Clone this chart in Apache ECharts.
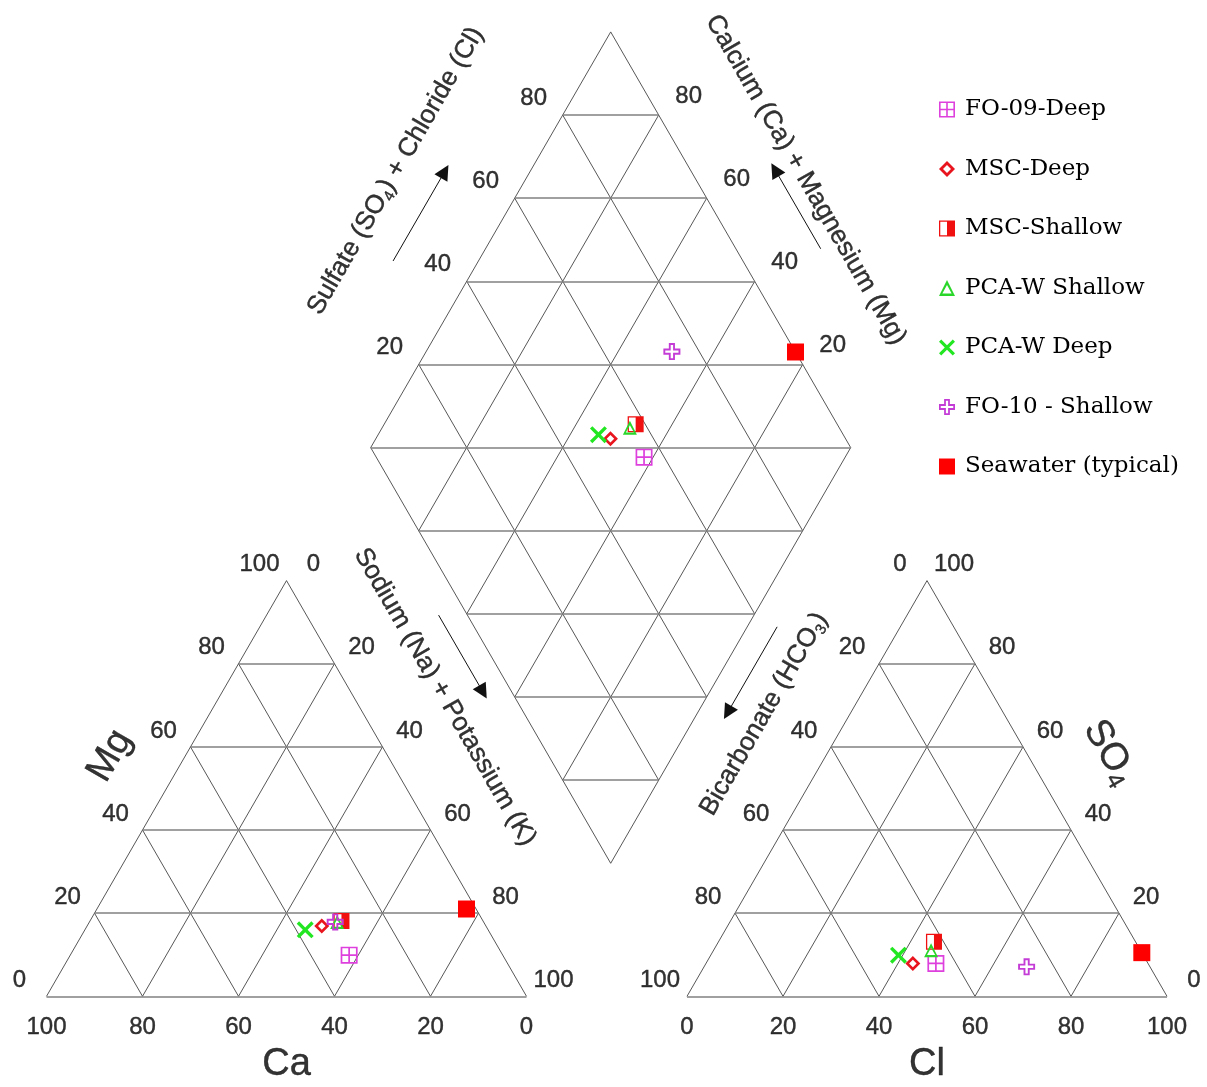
<!DOCTYPE html>
<html><head><meta charset="utf-8">
<script src="https://cdn.jsdelivr.net/npm/echarts@6/dist/echarts.min.js"></script>
<style>html,body{margin:0;padding:0;background:#fff}#c{width:1207px;height:1087px}</style>
</head><body><div id="c"></div>
<script>
// ---------------- data (percent of meq/L) ----------------
const samples = ['FO-09-Deep','MSC-Deep','MSC-Shallow','PCA-W Shallow','PCA-W Deep','FO-10 - Shallow','Seawater (typical)'];
const ca   = [32.0, 34.2, 29.5, 30.5, 38.1, 30.9,  2.0];
const mg   = [ 9.9, 16.9, 18.1, 17.9, 16.0, 17.9, 21.0];
const nak  = [58.1, 48.9, 52.4, 51.6, 45.9, 51.2, 77.0];
const cl   = [47.9, 43.1, 44.9, 45.3, 39.1, 67.2, 89.5];
const so4  = [ 7.9,  7.9, 13.1, 11.1,  9.9,  7.1, 10.5];
const hco3 = [44.2, 49.0, 42.0, 43.6, 51.0, 25.7,  0.0];
const tickValues = [0, 20, 40, 60, 80, 100];
const diamondTicks = [20, 40, 60, 80];
const gridSteps = [0, 20, 40, 60, 80];

// ---------------- styles ----------------
const colors  = ['#dd40dd', '#e8141e', '#f01010', '#2bd62b', '#22e622', '#c43cd6', '#ff0000'];
const symbols = [
  'path://M0,0L100,0L100,100L0,100Z M10,10L10,45L45,45L45,10Z M55,10L55,45L90,45L90,10Z M10,55L10,90L45,90L45,55Z M55,55L55,90L90,90L90,55Z',
  'path://M50,0L100,50L50,100L0,50Z M50,25L25,50L50,75L75,50Z',
  'path://M0,0L100,0L100,100L0,100Z M8,8L8,92L50,92L50,8Z',
  'path://M50,0L100,100L0,100Z M50,32L21,84L79,84Z',
  'path://M0,14L14,0L50,36L86,0L100,14L64,50L100,86L86,100L50,64L14,100L0,86L36,50Z',
  'path://M32,0L68,0L68,32L100,32L100,68L68,68L68,100L32,100L32,68L0,68L0,32L32,32Z M43,11L43,43L11,43L11,57L43,57L43,89L57,89L57,57L89,57L89,43L57,43L57,11Z',
  'rect'
];
const sizes = [17, 15, 16, 14, 17, 17, 17];

// ---------------- geometry (units: triangle side = 100) ----------------
const S = 4.8, X0 = 46.5, Y0 = 996.3, W = 1207, HH = 1087;
const H = Math.sqrt(3) / 2;
const RX = 133.44;            // anion triangle offset
const DX = 117.54, DY = 27.71; // diamond bottom vertex
function cat(na, m) { return [na + m / 2, H * m]; }
function an(c, s) { return [RX + c + s / 2, H * s]; }
function dia(n, h) { return [DX + 0.5 * (n - h), DY + H * (200 - n - h)]; }
function along(A, B, t, d) {
  const dx = B[0] - A[0], dy = B[1] - A[1], len = Math.hypot(dx, dy);
  return [A[0] + dx * t - dy / len * d, A[1] + dy * t + dx / len * d];
}
const Dt = dia(0, 0), Db = dia(100, 100), Dl = dia(0, 100), Dr = dia(100, 0);

// grid segments
const horiz = [], slant = [];
gridSteps.forEach(k => {
  horiz.push([cat(0, k), cat(100 - k, k)]);
  slant.push([cat(k, 0), cat(k, 100 - k)]);
  slant.push([cat(100 - k, 0), cat(0, 100 - k)]);
  horiz.push([an(0, k), an(100 - k, k)]);
  slant.push([an(k, 0), an(k, 100 - k)]);
  slant.push([an(100 - k, 0), an(0, 100 - k)]);
});
[0, 20, 40, 60, 80, 100].forEach(k => {
  slant.push([dia(k, 0), dia(k, 100)]);
  slant.push([dia(0, k), dia(100, k)]);
});
for (let j = 1; j <= 9; j++) {
  const s = 200 - 20 * j;
  if (j <= 5) horiz.push([dia(s - 100, 100), dia(100, s - 100)]);
  else horiz.push([dia(0, s), dia(s, 0)]);
}

// tick labels
const tick = (pos, v, off) => ({ value: pos, label: { formatter: String(v), offset: off } });
const tickData = [];
tickValues.forEach(v => {
  tickData.push(tick(cat(0, v), v, [-27, -16]));       // Mg
  tickData.push(tick(cat(v, 100 - v), v, [27, -16]));  // Na+K
  tickData.push(tick(cat(100 - v, 0), v, [0, 31]));    // Ca
  tickData.push(tick(an(0, 100 - v), v, [-27, -16]));  // HCO3
  tickData.push(tick(an(100 - v, v), v, [27, -16]));   // SO4
  tickData.push(tick(an(v, 0), v, [0, 31]));           // Cl
});
diamondTicks.forEach(v => {
  tickData.push(tick(dia(0, 100 - v), v, [-29, -17]));
  tickData.push(tick(dia(100 - v, 0), v, [30, -19]));
});

// titles
const tb = { textBorderColor: '#000', textBorderWidth: 0.4 };
const richSmall = { a: Object.assign({ fontSize: 26, lineHeight: 30, color: '#000', fontFamily: 'Liberation Sans' }, tb),
                    b: Object.assign({ fontSize: 15, lineHeight: 15, verticalAlign: 'bottom', color: '#000', fontFamily: 'Liberation Sans' }, tb) };
const richBig = { a: Object.assign({ fontSize: 38, lineHeight: 44, color: '#000', fontFamily: 'Liberation Sans' }, tb),
                  b: Object.assign({ fontSize: 24, lineHeight: 22, verticalAlign: 'bottom', color: '#000', fontFamily: 'Liberation Sans' }, tb) };
const tt = (pos, f, rot, big) => ({ value: pos, label: { formatter: f, rotate: rot, rich: big ? richBig : richSmall } });
const titleData = [
  tt(along(Dl, Dt, 0.525, 24.3), '{a|Sulfate (SO}{b|4}{a|) + Chloride (Cl)}', 60),
  tt(along(Dt, Dr, 0.47, 19.8), '{a|Calcium (Ca) + Magnesium (Mg)}', -60),
  tt(along(Db, Dl, 0.473, 12.6), '{a|Sodium (Na) + Potassium (K)}', -60),
  tt(along(Dr, Db, 0.571, 12.1), '{a|Bicarbonate (HCO}{b|3}{a|)}', 60),
  tt(along(cat(0, 0), cat(0, 100), 0.5, 13.6), '{a|Mg}', 60, true),
  tt(along(an(0, 100), an(100, 0), 0.5, 15.0), '{a|SO}{b|4}', -60, true),
  tt([50, -14.2], '{a|Ca}', 0, true),
  tt([RX + 50, -14.2], '{a|Cl}', 0, true)
];

const arrows = [
  [along(Dl, Dt, 0.36, 15.4), along(Dl, Dt, 0.575, 15.4)],
  [along(Dt, Dr, 0.61, 15.3), along(Dt, Dr, 0.42, 15.3)],
  [along(Db, Dl, 0.627, 5.2), along(Db, Dl, 0.442, 5.2)],
  [along(Dr, Db, 0.40, 5.4), along(Dr, Db, 0.606, 5.4)]
];

const series = [
  { type: 'lines', coordinateSystem: 'cartesian2d', silent: true, z: 1,
    lineStyle: { color: '#444', width: 0.9, opacity: 1 }, data: slant.map(s => ({ coords: s })) },
  { type: 'lines', coordinateSystem: 'cartesian2d', silent: true, z: 1,
    lineStyle: { color: '#808080', width: 1.5, opacity: 1 }, data: horiz.map(s => ({ coords: s })) },
  { type: 'lines', coordinateSystem: 'cartesian2d', silent: true, z: 2,
    symbol: ['none', 'triangle'], symbolSize: [12, 15],
    lineStyle: { color: '#111', width: 1, opacity: 1 }, data: arrows.map(s => ({ coords: s })) },
  { type: 'scatter', silent: true, symbolSize: 1, itemStyle: { color: 'transparent' }, z: 3,
    label: Object.assign({ show: true, position: 'inside', fontSize: 24, color: '#000', fontFamily: 'Liberation Sans' }, tb),
    data: tickData },
  { type: 'scatter', silent: true, symbolSize: 1, itemStyle: { color: 'transparent' }, z: 3,
    label: Object.assign({ show: true, position: 'inside', color: '#000' }, tb),
    data: titleData }
];
samples.forEach((name, i) => {
  series.push({
    type: 'scatter', name, symbol: symbols[i], symbolSize: sizes[i], z: 10 + i,
    itemStyle: { color: colors[i], opacity: 1 },
    data: [cat(nak[i], mg[i]), an(cl[i], so4[i]), dia(nak[i], hco3[i])]
  });
});

const chart = echarts.init(document.getElementById('c'), null, { renderer: 'canvas' });
chart.setOption({
  animation: false,
  backgroundColor: '#fff',
  textStyle: { fontFamily: 'Liberation Sans' },
  grid: { left: 0, right: 0, top: 0, bottom: 0, containLabel: false },
  xAxis: { type: 'value', min: -X0 / S, max: (W - X0) / S, show: false },
  yAxis: { type: 'value', min: -(HH - Y0) / S, max: Y0 / S, show: false },
  legend: {
    orient: 'vertical', left: 934, top: 92.5, itemGap: 35.5, itemWidth: 16, itemHeight: 16,
    selectedMode: false,
    textStyle: { fontFamily: 'DejaVu Serif', fontSize: 23, color: '#000', lineHeight: 24, padding: [0, 0, 0, 5] },
    data: samples.map((n, i) => ({ name: n, icon: symbols[i] }))
  },
  series
});
</script></body></html>
